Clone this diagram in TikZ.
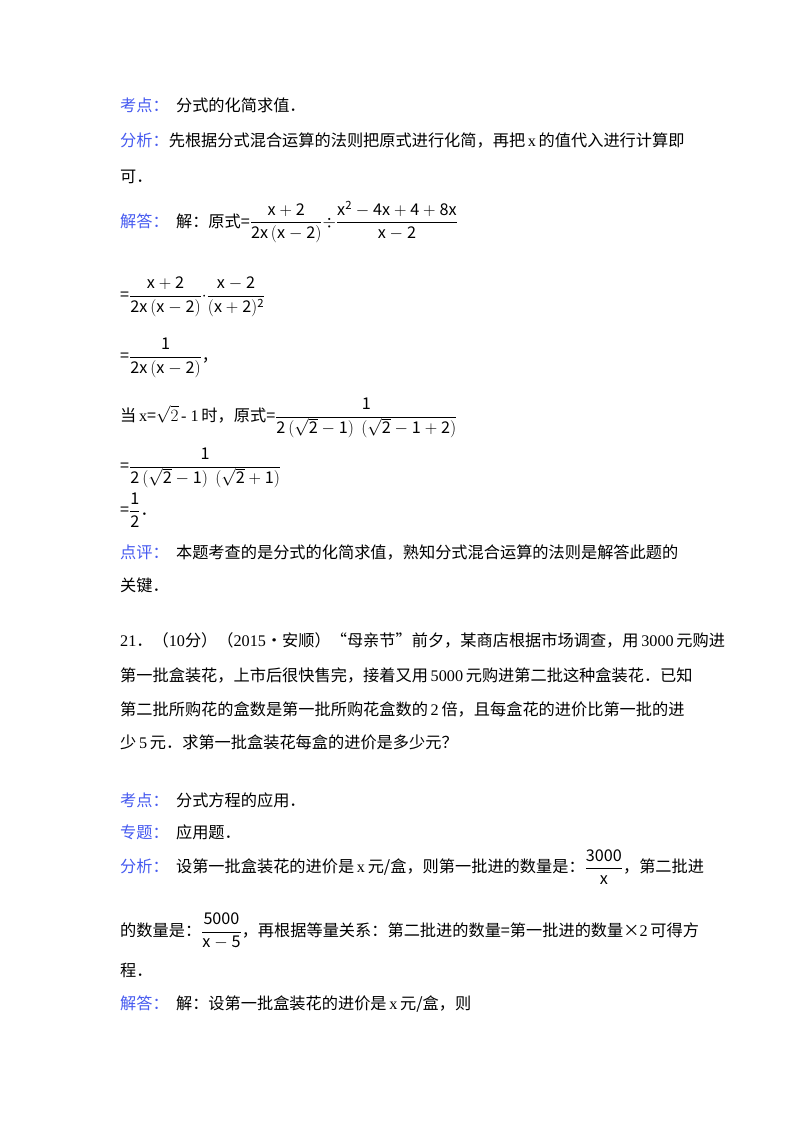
\documentclass[tikz,border=0pt]{standalone}
\usepackage{fontspec}
\setmainfont{Noto Sans CJK SC}
\newfontfamily\latfont{Liberation Serif}
\newcommand\la[1]{{\latfont #1}}
\definecolor{lblue}{RGB}{70,90,240}
\newcommand\lab[1]{{\color{lblue}#1}}
\newcommand\fr[2]{$\displaystyle\frac{\mathrm{#1}}{\mathrm{#2}}$}
\begin{document}
\begin{tikzpicture}[x=1pt,y=-1pt,
  ln/.style={anchor=base west,inner sep=0pt,font=\fontsize{16.2}{18}\selectfont},
  mln/.style={anchor=west,inner sep=0pt,font=\fontsize{16.2}{18}\selectfont}]
\fill[white] (0,0) rectangle (800,1132);
\useasboundingbox (0,0) rectangle (800,1132);
\node[ln] (l1) at (120,111) {\lab{考点：}\ \ 分式的化简求值．};
\node[ln] (l2) at (120,146) {\lab{分析：}先根据分式混合运算的法则把原式进行化简，再把\,\la{x}\,的值代入进行计算即};
\node[ln] (l3) at (120,182) {可．};
\node[mln] (l4) at (120,222) {\lab{解答：}\ \ 解：原式=\fr{x+2}{2x\,(x-2)}$\div$\fr{x^2-4x+4+8x}{x-2}};
\node[mln] (l5) at (120,297) {=\fr{x+2}{2x\,(x-2)}$\cdot$\fr{x-2}{(x+2)^2}};
\node[mln] (l6) at (120,358) {=\fr{1}{2x\,(x-2)}，};
\node[mln] (l7) at (120,418) {当\,\la{x}=$\sqrt{2}$\,\la{- 1}\,时，原式=\fr{1}{2\,(\sqrt{2}-1)\ \ (\sqrt{2}-1+2)}};
\node[mln] (l8) at (120,468) {=\fr{1}{2\,(\sqrt{2}-1)\ \ (\sqrt{2}+1)}};
\node[mln] (l9) at (120,510) {=\fr{1}{2}．};
\node[ln] (l10) at (120,558) {\lab{点评：}\ \ 本题考查的是分式的化简求值，熟知分式混合运算的法则是解答此题的};
\node[ln] (l11) at (120,591) {关键．};
\node[ln] (l12) at (120,646) {\la{21}．（\la{10}分）（\la{2015}•安顺）“母亲节”前夕，某商店根据市场调查，用\,\la{3000}\,元购进};
\node[ln] (l13) at (120,681) {第一批盒装花，上市后很快售完，接着又用\,\la{5000}\,元购进第二批这种盒装花．已知};
\node[ln] (l14) at (120,715) {第二批所购花的盒数是第一批所购花盒数的\,\la{2}\,倍，且每盒花的进价比第一批的进};
\node[ln] (l15) at (120,748) {少\,\la{5}\,元．求第一批盒装花每盒的进价是多少元？};
\node[ln] (l16) at (120,806) {\lab{考点：}\ \ 分式方程的应用．};
\node[ln] (l17) at (120,838) {\lab{专题：}\ \ 应用题．};
\node[mln] (l18) at (120,867) {\lab{分析：}\ \ 设第一批盒装花的进价是\,\la{x}\,元/盒，则第一批进的数量是：\fr{3000}{x}，第二批进};
\node[mln] (l19) at (120,931) {的数量是：\fr{5000}{x-5}，再根据等量关系：第二批进的数量=第一批进的数量×\la{2}\,可得方};
\node[ln] (l20) at (120,976) {程．};
\node[ln] (l21) at (120,1009) {\lab{解答：}\ \ 解：设第一批盒装花的进价是\,\la{x}\,元/盒，则};
\end{tikzpicture}
\end{document}
